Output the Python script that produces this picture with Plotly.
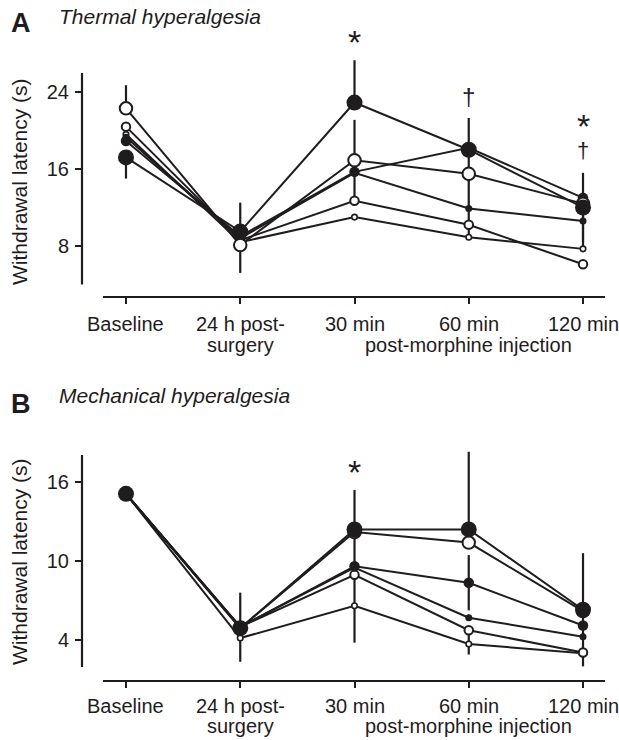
import plotly.graph_objects as go

# ---------------- data ----------------
time_labels = ["Baseline", "24 h post-", "30 min", "60 min", "120 min"]
time_sublabels = ["", "surgery", "", "", ""]
post_morphine_label = "post-morphine injection"

# Panel A: thermal hyperalgesia, withdrawal latency (s)
thermal_filled_large = [17.2, 9.5, 22.9, 18.0, 12.0]
thermal_filled_medium = [18.9, 9.0, 15.7, 18.2, 13.0]
thermal_filled_small = [19.3, 8.8, 15.6, 11.9, 10.6]
thermal_open_large = [22.3, 8.1, 16.9, 15.5, 12.4]
thermal_open_medium = [20.4, 8.6, 12.7, 10.2, 6.1]
thermal_open_small = [19.6, 8.4, 11.0, 8.9, 7.7]

thermal_err_filled_large_plus = [0, 3.0, 4.4, 3.3, 3.6]
thermal_err_filled_large_minus = [2.2, 0, 0, 3.3, 3.6]
thermal_err_open_large_plus = [2.4, 0, 4.2, 0, 0]
thermal_err_open_large_minus = [0, 2.9, 4.2, 6.6, 4.7]

# Panel B: mechanical hyperalgesia
mech_filled_large = [15.1, 4.9, 12.4, 12.4, 6.3]
mech_filled_medium = [15.1, 5.0, 9.6, 8.35, 5.1]
mech_filled_small = [15.1, 5.0, 9.5, 5.7, 4.25]
mech_open_large = [15.1, 4.9, 12.2, 11.4, 6.2]
mech_open_medium = [15.1, 5.0, 8.95, 4.75, 3.05]
mech_open_small = [15.1, 4.15, 6.6, 3.7, 3.0]

mech_err_filled_large_plus = [0, 2.7, 3.0, 5.9, 4.3]
mech_err_filled_large_minus = [0, 0, 3.0, 0, 4.3]
mech_err_filled_medium = [0, 0, 0, 2.1, 0]
mech_err_open_medium_minus = [0, 0, 2.3, 1.85, 0]
mech_err_open_small_minus = [0, 1.8, 2.8, 0, 0]

thermal_ticks = [8, 16, 24]
mech_ticks = [4, 10, 16]

# ---------------- styling ----------------
INK = "#1f1c1d"
FONT = "Liberation Sans, Arial, sans-serif"
W, H = 619, 740

def px_x(px):
    return px / W

def py(px):
    return 1 - px / H

def zeros():
    return [0] * len(time_labels)

def series_list(fl, fm, fs, ol, om, os_):
    return [
        (os_, "open", 5.5, 1.6),
        (om, "open", 8.5, 2.0),
        (fs, "filled", 7, 0),
        (fm, "filled", 10.5, 0),
        (ol, "open", 12.5, 2.0),
        (fl, "filled", 16, 0),
    ]

fig = go.Figure()

def add_panel(xa, ya, series, errors):
    for i, (vals, kind, size, lw) in enumerate(series):
        plus, minus = errors.get(i, (zeros(), zeros()))
        fig.add_trace(go.Scatter(
            x=time_labels, y=vals, mode="lines",
            line=dict(color=INK, width=2),
            error_y=dict(type="data", symmetric=False, array=plus, arrayminus=minus,
                         color=INK, thickness=2.2, width=0),
            xaxis=xa, yaxis=ya, showlegend=False, hoverinfo="skip",
        ))
    for vals, kind, size, lw in series:
        if kind == "filled":
            mk = dict(size=size, color=INK, line=dict(width=0))
        else:
            mk = dict(size=size, color="white", line=dict(color=INK, width=lw))
        fig.add_trace(go.Scatter(
            x=time_labels, y=vals, mode="markers", marker=mk,
            xaxis=xa, yaxis=ya, showlegend=False, hoverinfo="skip",
            cliponaxis=False,
        ))

add_panel("x", "y",
          series_list(thermal_filled_large, thermal_filled_medium, thermal_filled_small,
                      thermal_open_large, thermal_open_medium, thermal_open_small),
          {5: (thermal_err_filled_large_plus, thermal_err_filled_large_minus),
           4: (thermal_err_open_large_plus, thermal_err_open_large_minus)})

add_panel("x2", "y2",
          series_list(mech_filled_large, mech_filled_medium, mech_filled_small,
                      mech_open_large, mech_open_medium, mech_open_small),
          {5: (mech_err_filled_large_plus, mech_err_filled_large_minus),
           3: (mech_err_filled_medium, mech_err_filled_medium),
           1: (zeros(), mech_err_open_medium_minus),
           0: (zeros(), mech_err_open_small_minus)})

xrange = [-0.385, 4.21]
xdom = [px_x(82), px_x(607)]

common_x = dict(
    type="category", categoryorder="array", categoryarray=time_labels,
    range=xrange, domain=xdom, showgrid=False, zeroline=False, showline=False,
    automargin=False, showticklabels=False,
    ticks="outside", ticklen=6, tickwidth=2, tickcolor=INK,
)
common_y = dict(
    showgrid=False, zeroline=False, showline=False, automargin=False,
    ticks="outside", ticklen=6, tickwidth=2, tickcolor=INK,
    tickfont=dict(family=FONT, size=20, color=INK), ticklabelstandoff=2,
)

fig.update_layout(
    width=W, height=H, autosize=False, margin=dict(l=0, r=0, t=0, b=0, pad=0),
    paper_bgcolor="white", plot_bgcolor="white",
    xaxis=dict(common_x, anchor="y"),
    yaxis=dict(common_y, anchor="x", domain=[py(297), py(45)], range=[2.70, 28.88],
               tickvals=thermal_ticks),
    xaxis2=dict(common_x, anchor="y2"),
    yaxis2=dict(common_y, anchor="x2", domain=[py(681), py(430)], range=[0.89, 19.95],
                tickvals=mech_ticks),
)

def line(x0, y0, x1, y1):
    return dict(type="line", xref="paper", yref="paper",
                x0=px_x(x0), x1=px_x(x1), y0=py(y0), y1=py(y1),
                line=dict(color=INK, width=2.2))

fig.update_layout(shapes=[
    line(82, 73, 82, 284.5),   # A y-axis (4..26)
    line(103, 297, 605, 297),  # A x-axis
    line(82, 455, 82, 667),    # B y-axis (2..18)
    line(103, 681, 605, 681),  # B x-axis
])

ann = []
def text(x, y, s, size, **kw):
    d = dict(xref="paper", yref="paper", x=px_x(x), y=py(y), text=s, showarrow=False,
             font=dict(family=FONT, size=size, color=INK), xanchor="center", yanchor="middle")
    d.update(kw)
    ann.append(d)

text(9, 23, "<b>A</b>", 27, xanchor="left")
text(57, 16, "<i>Thermal hyperalgesia</i>", 21, xanchor="left")
text(9, 404, "<b>B</b>", 27, xanchor="left")
text(57, 395, "<i>Mechanical hyperalgesia</i>", 21, xanchor="left")

text(19, 182, "Withdrawal latency (s)", 21, textangle=-90)
text(19, 562, "Withdrawal latency (s)", 21, textangle=-90)

# category labels under the x-axis (two text rows)
def xlabels(xa, row1, row2):
    for i, (lab, sub) in enumerate(zip(time_labels, time_sublabels)):
        ann.append(dict(xref=xa, yref="paper", x=i, y=py(row1), text=lab, showarrow=False,
                        font=dict(family=FONT, size=20, color=INK),
                        xanchor="center", yanchor="middle"))
        if sub:
            ann.append(dict(xref=xa, yref="paper", x=i, y=py(row2), text=sub, showarrow=False,
                            font=dict(family=FONT, size=20, color=INK),
                            xanchor="center", yanchor="middle"))
    ann.append(dict(xref=xa, yref="paper", x=(2 + 4) / 2, y=py(row2), text=post_morphine_label,
                    showarrow=False, font=dict(family=FONT, size=20, color=INK),
                    xanchor="center", yanchor="middle"))

xlabels("x", 324, 345)
xlabels("x2", 706, 726)

def mark(xa, cat, ypx, s, size):
    ann.append(dict(xref=xa, yref="paper", x=time_labels.index(cat), y=py(ypx), text=s,
                    showarrow=False, font=dict(family=FONT, size=size, color=INK),
                    xanchor="center", yanchor="middle"))

mark("x", "30 min", 42, "*", 34)
mark("x", "60 min", 96, "†", 24)
mark("x", "120 min", 126, "*", 34)
mark("x", "120 min", 150, "†", 22)
mark("x2", "30 min", 472, "*", 34)

fig.update_layout(annotations=ann)

fig.write_html(
    "out.html",
    config={"displayModeBar": False},
    post_script="document.body.style.margin='0px';",
)
